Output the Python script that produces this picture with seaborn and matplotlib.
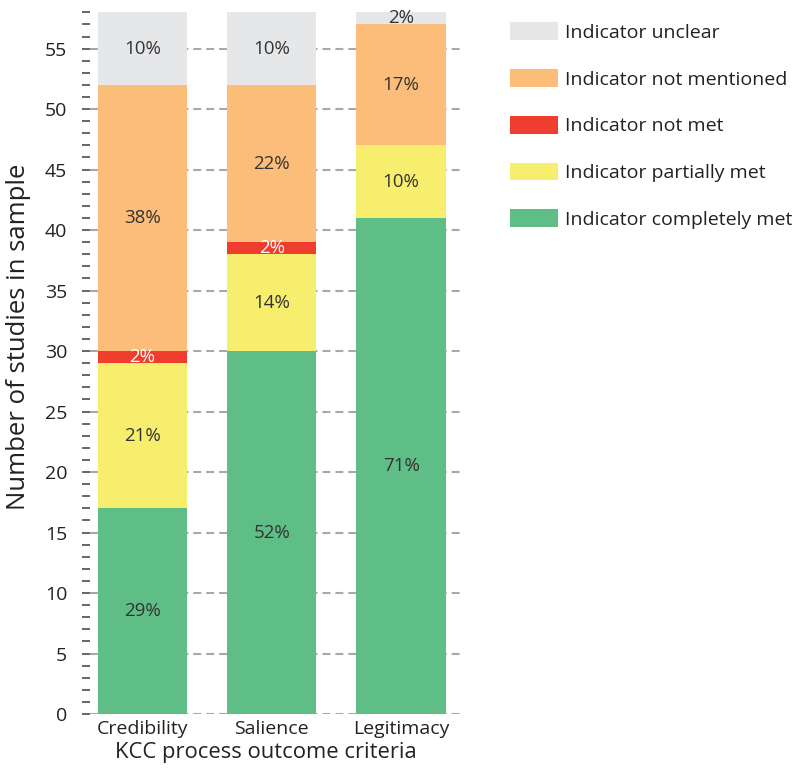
import numpy as np
import pandas as pd
import matplotlib
matplotlib.use("Agg")
import matplotlib.pyplot as plt
from matplotlib.patches import Patch
from matplotlib.ticker import MultipleLocator
import seaborn as sns

criteria = ["Credibility", "Salience", "Legitimacy"]
# stacking order, bottom to top
categories = ["Indicator completely met", "Indicator partially met",
              "Indicator not met", "Indicator not mentioned", "Indicator unclear"]
completely_met = [17, 30, 41]
partially_met = [12, 8, 6]
not_met = [1, 1, 0]
not_mentioned = [22, 13, 10]
unclear = [6, 6, 1]
colors = ["#5EBE86", "#F7EE6E", "#EF3E2E", "#FBBD79", "#E6E7E9"]
label_colors = ["#333333", "#333333", "white", "#333333", "#333333"]

counts = np.array([completely_met, partially_met, not_met, not_mentioned, unclear], dtype=float)
totals = counts.sum(axis=0)
tops = counts.cumsum(axis=0)

sns.set_style("white")
plt.rcParams["font.family"] = ["Open Sans", "DejaVu Sans"]

fig = plt.figure(figsize=(7.96, 7.69), dpi=100)
ax = fig.add_axes([0.113, 0.0715, 0.465, 0.9125])

# draw cumulative heights from top layer down so each segment overlays the next
for i in reversed(range(len(categories))):
    df = pd.DataFrame({"criterion": criteria, "top": tops[i]})
    sns.barplot(data=df, x="criterion", y="top", color=colors[i], width=0.69,
                saturation=1, linewidth=0, ax=ax, zorder=3)

for i in range(len(categories)):
    for j in range(len(criteria)):
        if counts[i, j] == 0:
            continue
        pct = round(100 * counts[i, j] / totals[j])
        y = tops[i, j] - counts[i, j] / 2
        ax.text(j, y, f"{pct:.0f}%", ha="center", va="center",
                fontsize=13.5, color=label_colors[i], zorder=4)

ax.set_ylim(0, 58)
ax.set_xlim(-0.405, 2.456)
ax.yaxis.set_major_locator(MultipleLocator(5))
ax.yaxis.set_minor_locator(MultipleLocator(1))
ax.tick_params(axis="y", which="both", length=5.8, width=1.4, color="#666666",
               labelsize=14, labelcolor="#222222", pad=10.5, left=True)
ax.tick_params(axis="x", length=0, labelsize=14, labelcolor="#222222", pad=4)
ax.grid(axis="y", which="major", linestyle=(0, (3.8, 2.4)), color="#A8A8A8",
        linewidth=1.5, zorder=0)
ax.set_axisbelow(True)
for s in ax.spines.values():
    s.set_visible(False)

ax.set_ylabel("Number of studies in sample", fontsize=18.5, color="#222222")
ax.set_xlabel("KCC process outcome criteria", fontsize=15.8, color="#222222")
ax.yaxis.set_label_coords(-0.158, 0.538)
ax.xaxis.set_label_coords(0.476, -0.040)

handles = [Patch(facecolor=colors[i], edgecolor="none", label=categories[i])
           for i in reversed(range(len(categories)))]
fig.legend(handles=handles, loc="upper left", bbox_to_anchor=(0.641, 0.971),
           frameon=False, fontsize=14, handlelength=2.47, handleheight=1.03,
           labelspacing=1.4, handletextpad=0.36, borderpad=0, borderaxespad=0,
           labelcolor="#222222")

fig.savefig("out.png", dpi=100)
